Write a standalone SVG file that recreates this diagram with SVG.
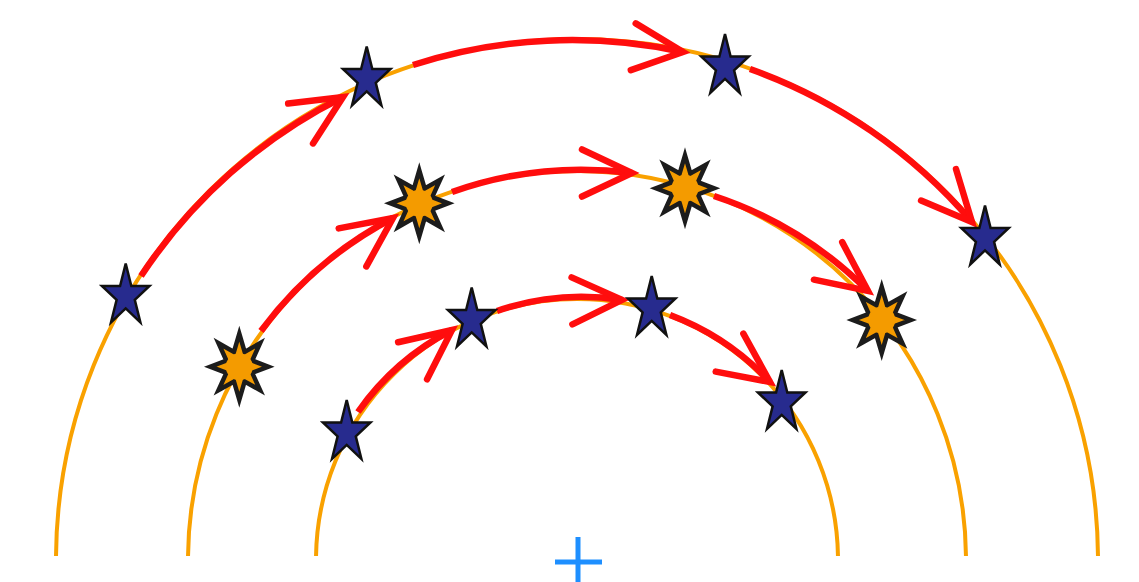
<svg xmlns="http://www.w3.org/2000/svg" xmlns:xlink="http://www.w3.org/1999/xlink" width="1139" height="582" viewBox="0 0 1139 582">
  <style>
    .track { fill: none; stroke: #f9a100; stroke-width: 4; }
    .link { fill: none; stroke: #ff0d0d; stroke-width: 6.5; }
    .head { fill: none; stroke: #ff0d0d; stroke-width: 6.5; stroke-linecap: round; stroke-linejoin: miter; }
    .star { fill: #272b8e; stroke: #111; stroke-width: 2.5; stroke-linejoin: miter; }
    .rays { fill: #f49b00; stroke: #1c1c1c; stroke-width: 4.5; stroke-linejoin: miter; }
    .disc { fill: #f49b00; }
    .plus { stroke: #1e8fff; stroke-width: 5; fill: none; }
  </style>
  <defs>
    <path id="starShape" class="star" d="M0,-32.5 L5.61,-10.05 L23.78,-10.05 L9.08,3.84 L14.69,26.3 L0,12.42 L-14.69,26.3 L-9.08,3.84 L-23.78,-10.05 L-5.61,-10.05 Z"/>
    <g id="sunShape">
      <path class="rays" d="M0,-33 L5.36,-14.78 L20.8,-23.5 L12.93,-6.12 L29,0 L12.93,6.12 L20.8,23.5 L5.36,14.78 L0,33 L-5.36,14.78 L-20.8,23.5 L-12.93,6.12 L-29,0 L-12.93,-6.12 L-20.8,-23.5 L-5.36,-14.78 Z"/>
      <circle class="disc" r="13.5"/>
    </g>
    <path id="chevron" class="head" d="M-50,-23.5 L0,0 L-50,23.5"/>
  </defs>

  <rect width="1139" height="582" fill="#ffffff"/>

  <g id="tracks">
    <path class="track" d="M56.015,556 A521,521 0 0 1 1097.985,556"/>
    <path class="track" d="M188.02,556 A389,389 0 0 1 965.98,556"/>
    <path class="track" d="M316.03,556 A261,261 0 0 1 837.97,556"/>
  </g>

  <g id="connectors">
    <path class="link" d="M141,276 A521,521 0 0 1 343,97"/>
    <use xlink:href="#chevron" transform="translate(343,97) rotate(-32)"/>
    <path class="link" d="M413,65 A521,521 0 0 1 683,52"/>
    <use xlink:href="#chevron" transform="translate(683,52) rotate(6)"/>
    <path class="link" d="M750,69 A521,521 0 0 1 972,222"/>
    <use xlink:href="#chevron" transform="translate(972,222) rotate(48)"/>

    <path class="link" d="M261,331 A389,389 0 0 1 393,218"/>
    <use xlink:href="#chevron" transform="translate(393,218) rotate(-36)"/>
    <path class="link" d="M452,192 A389,389 0 0 1 632,173"/>
    <use xlink:href="#chevron" transform="translate(632,173) rotate(0)"/>
    <path class="link" d="M714,196 A389,389 0 0 1 868,291"/>
    <use xlink:href="#chevron" transform="translate(868,291) rotate(37)"/>

    <path class="link" d="M358,412 A261,261 0 0 1 452,330"/>
    <use xlink:href="#chevron" transform="translate(452,330) rotate(-38)"/>
    <path class="link" d="M497,311 A261,261 0 0 1 622,300"/>
    <use xlink:href="#chevron" transform="translate(622,300) rotate(-1)"/>
    <path class="link" d="M670,315 A261,261 0 0 1 770,382"/>
    <use xlink:href="#chevron" transform="translate(770,382) rotate(36)"/>
  </g>

  <g id="outer-star-1"><use xlink:href="#starShape" transform="translate(125.7,296)"/></g>
  <g id="outer-star-2"><use xlink:href="#starShape" transform="translate(366.7,79)"/></g>
  <g id="outer-star-3"><use xlink:href="#starShape" transform="translate(725,66.5)"/></g>
  <g id="outer-star-4"><use xlink:href="#starShape" transform="translate(985,238)"/></g>

  <g id="middle-sun-1"><use xlink:href="#sunShape" transform="translate(239.3,366.7)"/></g>
  <g id="middle-sun-2"><use xlink:href="#sunShape" transform="translate(419.3,203.3)"/></g>
  <g id="middle-sun-3"><use xlink:href="#sunShape" transform="translate(685,188.3)"/></g>
  <g id="middle-sun-4"><use xlink:href="#sunShape" transform="translate(881.7,320)"/></g>

  <g id="inner-star-1"><use xlink:href="#starShape" transform="translate(346.7,432.5)"/></g>
  <g id="inner-star-2"><use xlink:href="#starShape" transform="translate(471.7,320)"/></g>
  <g id="inner-star-3"><use xlink:href="#starShape" transform="translate(651.7,308.5)"/></g>
  <g id="inner-star-4"><use xlink:href="#starShape" transform="translate(781.7,402.5)"/></g>

  <g id="center-mark">
    <path class="plus" d="M578,537 L578,590 M555,562 L602,562"/>
  </g>
</svg>
